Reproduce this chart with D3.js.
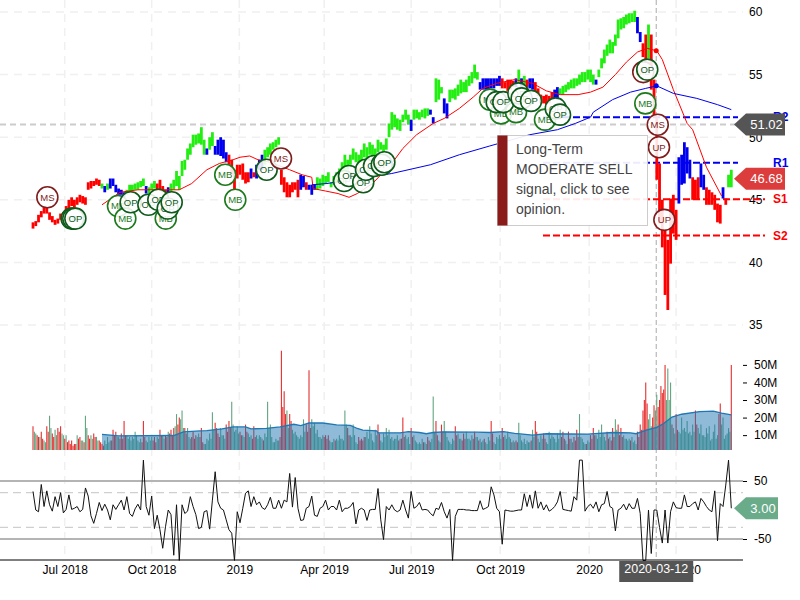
<!DOCTYPE html>
<html>
<head>
<meta charset="utf-8">
<script src="https://cdn.jsdelivr.net/npm/d3@7"></script>
<style>
	body { margin: 0; background: #fff; font-family: "Liberation Sans", Arial, sans-serif; }
	svg { display: block; }
	text { font-family: "Liberation Sans", Arial, sans-serif; }
</style>
</head>
<body>
<div id="chart"></div>
<script>
// every price/volume/cci sample below is two trading days apart
var priceHigh = [
	43.2,43.3,43.8,44.1,44.4,44.4,44.0,43.7,43.4,43.5,
	43.9,44.0,44.5,45.0,45.2,45.0,45.2,45.4,45.3,45.2,
	46.4,46.5,46.5,46.7,46.6,46.3,46.1,46.3,46.7,46.7,
	46.2,45.9,45.8,45.6,45.8,46.2,46.2,46.3,46.4,46.5,
	46.7,46.1,46.0,46.3,46.5,46.3,46.6,46.1,45.8,46.0,
	46.3,46.6,47.3,46.9,48.1,48.2,49.1,49.5,50.2,50.2,
	50.3,50.8,49.8,49.1,50.0,50.4,49.3,49.8,50.0,49.8,
	48.8,48.6,48.2,47.4,47.8,47.8,47.9,47.2,47.2,47.5,
	47.2,47.8,48.2,48.6,49.0,49.2,49.5,49.6,49.8,50.0,
	47.4,46.8,46.4,46.2,46.4,46.4,46.6,47.0,46.9,46.4,
	46.2,46.2,46.2,46.8,46.7,47.0,46.9,47.2,46.4,46.9,
	47.2,47.5,48.0,48.6,48.2,48.6,49.1,48.8,48.6,49.0,
	49.5,49.2,49.6,49.4,49.1,49.8,49.6,49.4,49.9,51.1,
	52.0,51.8,51.5,51.4,51.8,52.2,51.8,51.4,52.2,52.2,
	52.0,52.2,52.3,52.3,52.2,51.6,54.7,54.6,54.0,53.1,
	52.7,53.8,53.8,53.9,54.2,54.6,54.4,54.6,54.9,55.2,
	55.8,55.2,54.4,54.7,54.7,54.7,54.7,54.7,54.7,54.9,
	54.7,54.4,54.6,54.6,54.5,54.7,55.4,54.7,54.9,54.6,
	54.7,54.7,54.4,53.9,53.4,53.3,53.4,53.3,53.6,53.8,
	54.0,53.9,54.1,54.2,54.4,54.6,54.7,54.7,55.0,55.2,
	55.2,55.4,55.4,55.0,54.6,55.4,56.3,57.0,57.4,57.8,
	57.6,58.2,59.4,59.5,59.6,59.8,59.9,59.9,60.1,59.6,
	58.4,57.5,58.2,59.0,58.2,54.6,51.6,47.9,45.0,42.6,
	41.8,45.1,45.4,44.2,48.4,48.6,49.6,49.2,48.2,46.8,
	46.6,46.8,47.9,47.0,46.0,45.8,45.6,45.4,44.7,44.6,
	46.0,45.1,47.0,47.4
];
var priceLow = [
	42.7,42.9,43.2,43.6,43.9,43.9,43.4,43.2,43.0,43.1,
	43.4,43.5,44.0,44.2,44.5,44.4,44.6,44.8,44.7,44.6,
	45.8,45.9,46.1,46.2,46.1,45.9,45.6,45.8,45.9,46.1,
	45.6,45.4,45.4,45.2,45.4,45.6,45.7,45.8,45.8,46.0,
	46.1,45.5,45.5,45.8,45.9,45.8,45.8,45.6,45.4,45.5,
	45.6,45.8,46.1,45.8,46.9,47.4,48.2,48.6,49.2,49.4,
	49.5,49.4,48.6,48.6,49.0,49.3,48.6,48.6,48.5,48.3,
	48.0,47.8,47.0,45.8,46.7,47.0,46.6,46.3,46.4,46.7,
	46.8,46.7,47.4,47.4,47.8,48.4,48.6,49.0,49.2,49.4,
	46.2,45.6,45.2,45.2,45.6,45.8,45.2,45.8,46.0,45.8,
	45.8,45.4,45.8,45.8,45.9,46.1,46.3,46.4,46.0,46.2,
	46.4,46.7,47.2,47.4,47.4,47.8,48.2,48.0,47.8,48.0,
	48.4,48.2,48.6,48.4,48.2,48.8,49.0,48.8,49.0,50.0,
	50.6,50.8,50.6,50.5,51.2,51.4,51.0,50.5,51.4,51.5,
	51.4,51.6,51.5,51.7,51.8,51.1,52.8,53.0,53.5,51.9,
	51.5,52.8,53.1,53.0,53.3,53.5,53.6,53.6,54.1,54.3,
	54.7,54.6,53.8,53.8,53.8,53.8,53.9,53.9,54.1,54.1,
	53.9,53.9,53.7,53.8,54.0,54.0,54.3,53.9,54.2,54.0,
	53.9,53.8,53.6,53.3,52.7,52.7,52.6,52.7,53.0,53.1,
	53.0,53.4,53.4,53.6,53.8,53.9,53.9,54.1,54.2,54.4,
	54.4,54.6,54.4,54.2,54.2,54.8,55.5,55.9,56.5,56.7,
	56.7,57.3,57.9,58.6,58.7,59.0,59.1,59.2,59.2,58.3,
	57.6,56.4,56.2,56.3,53.8,51.6,46.6,43.1,41.2,37.4,
	36.2,39.9,42.3,41.8,44.7,46.2,46.3,47.1,46.7,45.0,
	45.0,45.0,46.0,45.8,44.6,44.6,44.6,44.2,43.2,43.1,
	45.1,44.6,46.0,46.0
];
// r = falling, b = sideways, g = rising
var priceTrend = (
	"rrrrrrrrrr" + "rrrrrrrrrr" + "rrrrrgbgbb" + "bbbbgggggg" + "gbgggrrrrb" +
	"gggggggggg" + "gggbggbbbb" + "brrrrrrrrb" + "rbbbgggggg" + "rrrrrrrbbr" +
	"bbbggggggg" + "gggggggggg" + "gggggggggg" + "gggggggbgg" + "ggggbbgggb" +
	"bggggggggg" + "ggbbbbbbbb" + "rrrrrbgbgr" + "bbrrrrrrrb" + "bggggggggg" +
	"ggggbggggg" + "gggggggggb" + "brrgrrrrrr" + "rrrrbbbbbr" + "rrbbrrrrrr" +
	"brgg"
).split("");

// millions of shares, negative = down day (red bar)
var volume = [
	-15,11,-9,-12,7,-15,21,-11,13,-14,
	-15,10,10,-7,-7,-5,10,-9,7,21,
	-10,10,-11,9,-7,-5,7,9,7,-13,
	-12,9,-11,-18,10,9,9,12,7,8,
	-18,7,9,9,-9,9,-13,10,-10,12,
	-13,-14,22,-20,24,-14,14,8,-12,-10,
	11,-14,5,8,11,23,-17,-11,14,10,
	-16,-18,29,12,15,-12,10,-16,11,10,
	-15,10,10,8,11,29,16,6,8,7,
	-58,-35,24,-22,13,12,9,10,19,-16,
	-47,19,17,13,9,10,-10,-10,6,8,
	8,10,8,24,-14,10,16,6,-9,-8,
	-9,12,15,7,13,-16,7,11,14,13,
	9,8,10,8,-20,10,9,-14,10,6,
	6,8,6,-9,6,32,-18,7,-16,18,
	9,6,8,-15,11,8,-11,12,8,10,
	-12,9,8,7,6,9,-18,6,9,10,
	-14,10,12,8,7,-7,17,7,8,7,
	6,13,-18,8,10,-11,6,12,10,8,
	11,13,-12,7,-12,8,-9,-13,22,8,
	5,7,-10,-14,10,13,16,9,-12,9,
	-14,19,-16,-14,10,8,8,9,7,-12,
	-16,-24,-40,19,15,-27,33,-30,-34,-50,
	48,40,14,-22,12,20,14,18,12,16,
	-24,14,16,10,14,15,8,16,10,-28,
	20,10,14,-50
];
// the trading days in between
var volumeBetween = [
	12,-10,9,-8,6,-12,14,-9,10,-12,
	11,-8,-6,-5,-4,-5,-8,7,-6,14,
	-8,8,-9,7,-6,-4,5,6,-7,-10,
	9,-8,-8,-10,8,7,8,10,6,-6,
	-9,6,7,-7,-6,8,-10,8,-9,-11,
	-10,15,-16,19,14,-11,9,-9,-8,9,
	-9,-6,5,7,8,13,-14,-9,10,8,
	-12,-14,16,13,11,-10,9,-12,9,-8,
	-9,8,9,-7,9,14,9,6,7,-9,
	-26,-22,14,-18,11,10,8,9,12,-12,
	-14,15,11,9,8,-9,-8,7,6,-7,
	7,8,7,16,-10,9,10,5,-7,-7,
	9,8,11,6,10,-11,6,9,10,8,
	7,8,-7,-8,-9,8,5,-9,7,5,
	5,-6,5,-7,8,12,-10,6,-12,12,
	7,5,7,-10,8,-7,-8,8,7,-8,
	9,-7,6,-8,5,7,-11,5,8,8,
	-9,8,9,-6,6,-6,10,6,5,6,
	-7,9,-12,6,8,-8,5,8,9,6,
	8,-9,-8,5,-8,6,-7,-9,9,6,
	-5,6,-8,-10,8,9,11,7,-8,-7,
	-9,13,-10,-9,8,7,-7,6,5,-9,
	-13,-30,-28,22,-20,24,-26,-38,-36,30,
	30,-16,11,-13,11,13,12,11,10,12,
	-16,11,10,9,11,7,12,8,-22,16,
	8,11,12
];
var volumeAvgBars = [50,62,102,109,121,126,137,145,154,158,169,179,189,194,200,210,220,230,235,239,249,250,266,272,280,285,290,297,322,331,341,349,355,362,372,402,420,433,437,445,452,457,463,470,483,493,499,506];
var volumeAvg = [10.4,9.6,9.8,11.9,12.4,12.6,13.6,14.7,14.7,13.6,13.8,14.7,16.2,15.4,16.9,16.9,15.8,15.6,13.8,12.8,12.4,11.3,11.3,12,11.5,10.8,11.5,11.9,11.7,11.5,12,11,10.6,10,10.8,10.6,11.5,11.3,10.8,13,14.4,16.6,20.3,21.9,23.4,23.7,22.6,21.5];

var cci = [
	32,0,-3,44,6,33,9,-2,23,6,
	30,-5,1,26,1,3,6,-3,1,38,
	24,-10,-23,-6,13,-1,10,0,-17,9,
	1,9,17,0,23,-6,-11,2,10,0,
	86,6,-9,24,-32,-9,-34,-66,-29,0,
	-8,-78,9,-87,9,-6,-2,23,6,-8,
	-32,-30,-3,-1,-33,17,66,14,3,0,
	-17,-34,-40,-87,-3,-22,3,29,33,6,
	23,9,14,4,1,9,22,3,3,17,
	3,17,14,63,5,56,3,-18,-17,3,
	6,24,-9,-11,3,6,17,0,6,6,
	0,17,-3,3,3,6,13,-24,0,3,
	0,-18,0,1,1,37,-17,-51,6,0,
	9,0,-3,0,17,0,-14,32,3,6,
	13,0,1,0,-6,-10,3,1,13,-3,
	-14,1,-87,-11,1,1,1,0,0,-1,
	-1,-1,16,1,3,6,40,26,3,-3,
	-59,0,-1,-2,-2,-1,0,0,28,6,
	26,3,33,3,14,0,9,-2,1,6,
	14,32,1,0,-1,-2,23,17,86,86,
	-2,6,10,3,14,-3,9,11,32,6,
	3,-36,0,3,10,0,11,3,3,20,
	-6,-87,-87,0,-75,0,0,-30,-57,0,
	-57,-3,14,4,3,3,26,6,6,11,
	14,0,20,14,6,0,-3,33,-53,11,
	6,43,86,3
];

// moving averages, bar number and price
var ma50Bars = [50,63,76,94,106,115,126,135,145,150,157,163,172,186,195,202,203,212,221,229,235,246,260,268,278,290,298,309,319,326,336,349,362,372,382,395,404,413,422,430,438,445,452,456,464,474,478,488,499];
var ma50 = [44.6,45.6,45.8,45.8,45.8,46.3,47.4,47.9,48.2,48.4,48.5,48.2,48,47.4,47,46.8,45.9,45.7,45.5,45.2,45.5,46.3,47.9,49.1,50.2,51.1,51.5,52.3,53.2,53.9,54.3,54.6,54.3,53.7,53.4,53.4,53.6,54,55,56,56.8,57.1,56.9,56.2,53.8,51.1,50.6,47.6,45.3];
var ma200Bars = [202,213,260,288,309,331,360,380,393,404,406,420,433,444,452,464,481,496,506];
var ma200 = [46.2,46.3,47.1,47.8,48.6,49.3,50.2,50.6,51.1,51.6,52,53,53.6,53.9,54.1,53.5,53.1,52.6,52.2];

// signal circles, oldest first so the later ones lie on top
var markBars = [10.4,28,29.2,30.7,61.6,66.9,70.8,83.6,90.8,96.2,97.6,100.5,139.3,146.6,169.3,179.7,225.4,229,239.3,241.3,247.1,252.7,254.6,331.2,339.1,350,336,340.8,351.7,354.1,360.9,371,378.8,381.9,442.2,445.1,443.7,452.7,453.6,457.5];
var markPrices = [45.2,43.5,43.5,43.5,44.5,43.5,44.8,44.6,45,43.5,44.3,44.8,47,45,47.4,48.3,46.5,46.9,46.4,47.4,47.7,47.8,48,53,51.9,52,52.8,52.8,53.5,53.1,52.9,51.4,52.3,51.8,55.2,55.4,52.7,51,49.2,43.4];
var markLabels = ["MS","OP","OP","OP","MB","MB","OP","OP","OP","MB","OP","OP","MB","MB","OP","MS","OP","OP","OP","OP","OP","OP","OP","MB","MB","MB","OP","OP","OP","OP","OP","MB","OP","OP","MS","OP","MB","MS","UP","UP"];

var priceTicks = [60,55,50,45,40,35];
var volumeTicks = [10,20,30,40,50];
var cciTicks = [50,-50];
var cciDashes = [30,-30];
var timeBars = [23,86,149.5,211,274,338.5,403,466];
var timeLabels = ["Jul 2018","Oct 2018","2019","Apr 2019","Jul 2019","Oct 2019","2020","Apr 2020"];

var levelNames = ["R2","R1","S1","S2"];
var levelPrices = [51.6,47.95,45.05,42.15];
var levelColors = ["#0000ee","#0000ee","#ff0000","#ff0000"];

var cursorBar = 451.6;
var cursorPrice = 51.02;
var cursorDate = "2020-03-12";
var lastPrice = 46.68;
var lastCci = 3;
var opinionLines = ["Long-Term", "MODERATE SELL", "signal, click to see", "opinion."];

var width = 800, height = 600;
var plotRight = 743, volumeBase = 450, cciBottom = 560;

var x = d3.scaleLinear().domain([0, 506]).range([33, 731.3]);
var y = d3.scaleLinear().domain([60, 35]).range([12, 325]);
var yVol = d3.scaleLinear().domain([0, 50]).range([452.7, 364.9]);
var yCci = d3.scaleLinear().domain([50, -50]).range([481, 539]);

var trendColor = {r: "#ff0000", g: "#22ee11", b: "#0000ee"};

var svg = d3.select("#chart").append("svg")
	.attr("width", width)
	.attr("height", height);

// grid
var grid = svg.append("g")
	.attr("fill", "none")
	.attr("stroke", "#f0f0f0")
	.attr("stroke-width", 1.5)
	.attr("stroke-dasharray", "8,6");

grid.selectAll(".gy").data(priceTicks).enter().append("line")
	.attr("x1", 0).attr("x2", plotRight)
	.attr("y1", d => y(d)).attr("y2", d => y(d));

grid.selectAll(".gx").data(timeBars).enter().append("line")
	.attr("x1", d => x(d)).attr("x2", d => x(d))
	.attr("y1", 0).attr("y2", cciBottom);

// axes
function styleAxis(g) {
	g.select(".domain").remove();
	g.selectAll("text").attr("fill", "#000").style("font-size", "12px");
	g.selectAll("line").attr("stroke", "#000");
}

svg.append("g")
	.attr("transform", `translate(${plotRight},0)`)
	.call(d3.axisRight(y).tickValues(priceTicks).tickSize(0).tickPadding(6))
	.call(styleAxis);

svg.append("g")
	.attr("transform", `translate(${plotRight},0)`)
	.call(d3.axisRight(yVol).tickValues(volumeTicks).tickFormat(d => d + "M").tickSize(4).tickPadding(7))
	.call(styleAxis);

svg.append("g")
	.attr("transform", `translate(${plotRight},0)`)
	.call(d3.axisRight(yCci).tickValues(cciTicks).tickFormat(d => String(d)).tickSize(4).tickPadding(7))
	.call(styleAxis);

svg.append("g")
	.attr("transform", `translate(0,${cciBottom})`)
	.call(d3.axisBottom(x).tickValues(timeBars).tickFormat((d, i) => timeLabels[i]).tickSize(0).tickPadding(5))
	.call(styleAxis);

// cursor lines
svg.append("line")
	.attr("x1", 0).attr("x2", 735)
	.attr("y1", y(cursorPrice)).attr("y2", y(cursorPrice))
	.attr("stroke", "#cccccc")
	.attr("stroke-width", 2)
	.attr("stroke-dasharray", "6,4");

svg.append("line")
	.attr("x1", x(cursorBar)).attr("x2", x(cursorBar))
	.attr("y1", 0).attr("y2", cciBottom)
	.attr("stroke", "#aaaaaa")
	.attr("stroke-width", 1)
	.attr("stroke-dasharray", "5,3");

// support and resistance
var levels = svg.append("g");
levelPrices.forEach(function(p, i) {
	levels.append("line")
		.attr("x1", 543).attr("x2", i < 2 ? 738 : 765)
		.attr("y1", y(p)).attr("y2", y(p))
		.attr("stroke", levelColors[i])
		.attr("stroke-width", 2)
		.attr("stroke-dasharray", "7,3");
	levels.append("text")
		.attr("x", 773)
		.attr("y", y(p))
		.attr("dy", "0.35em")
		.attr("fill", levelColors[i])
		.style("font-size", "12px")
		.style("font-weight", "bold")
		.text(levelNames[i]);
});

// price bars
svg.append("g").selectAll("line")
	.data(priceHigh)
	.enter()
	.append("line")
	.attr("x1", (d, i) => x(i * 2))
	.attr("x2", (d, i) => x(i * 2))
	.attr("y1", d => y(d))
	.attr("y2", (d, i) => y(priceLow[i]))
	.attr("stroke", (d, i) => trendColor[priceTrend[i]])
	.attr("stroke-width", 2.8);

// moving averages
var maLine = d3.line().x(d => x(d[0])).y(d => y(d[1]));

svg.append("path")
	.attr("d", maLine(d3.zip(ma50Bars, ma50)))
	.attr("fill", "none")
	.attr("stroke", "#ff0000")
	.attr("stroke-width", 1);

svg.append("path")
	.attr("d", maLine(d3.zip(ma200Bars, ma200)))
	.attr("fill", "none")
	.attr("stroke", "#0000ee")
	.attr("stroke-width", 1);

svg.append("circle").attr("cx", x(cursorBar)).attr("cy", y(56.9)).attr("r", 2.5).attr("fill", "#ff0000");
svg.append("circle").attr("cx", x(cursorBar)).attr("cy", y(54.1)).attr("r", 2.5).attr("fill", "#0000ee");

// signal circles
var markColor = {MS: "#7f1d1d", UP: "#7f1d1d", MB: "#1c7a1c", OP: "#0d5a1a"};
var marks = svg.append("g").selectAll("g")
	.data(markLabels)
	.enter()
	.append("g")
	.attr("transform", (d, i) => `translate(${x(markBars[i])},${y(markPrices[i])})`);

marks.append("circle")
	.attr("r", 10.5)
	.attr("fill", "#ffffff")
	.attr("fill-opacity", 0.88)
	.attr("stroke", d => markColor[d])
	.attr("stroke-width", 1.6);

marks.append("text")
	.attr("text-anchor", "middle")
	.attr("dy", "0.35em")
	.attr("fill", d => markColor[d])
	.style("font-size", "9.5px")
	.text(d => d);

// volume
function drawVolume(values, offset) {
	svg.append("g").selectAll("line")
		.data(values)
		.enter()
		.append("line")
		.attr("x1", (d, i) => x(i * 2 + offset))
		.attr("x2", (d, i) => x(i * 2 + offset))
		.attr("y1", d => yVol(Math.abs(d)))
		.attr("y2", volumeBase)
		.attr("stroke", d => d < 0 ? "#e62e2e" : "#62a580")
		.attr("stroke-width", 1.1);
}
drawVolume(volume, 0);
drawVolume(volumeBetween, 1);

var volumeArea = d3.area()
	.x(d => x(d[0]))
	.y0(volumeBase)
	.y1(d => yVol(d[1]));

svg.append("path")
	.attr("d", volumeArea(d3.zip(volumeAvgBars, volumeAvg)))
	.attr("fill", "#1f77b4")
	.attr("fill-opacity", 0.5);

svg.append("path")
	.attr("d", d3.line().x(d => x(d[0])).y(d => yVol(d[1]))(d3.zip(volumeAvgBars, volumeAvg)))
	.attr("fill", "none")
	.attr("stroke", "#1f77b4")
	.attr("stroke-width", 1.3);

// cci panel
svg.append("g").selectAll("line")
	.data(cciTicks)
	.enter()
	.append("line")
	.attr("x1", 0).attr("x2", plotRight)
	.attr("y1", d => yCci(d)).attr("y2", d => yCci(d))
	.attr("stroke", "#b4b4b4")
	.attr("stroke-width", 2);

svg.append("g").selectAll("line")
	.data(cciDashes)
	.enter()
	.append("line")
	.attr("x1", 0).attr("x2", plotRight)
	.attr("y1", d => yCci(d)).attr("y2", d => yCci(d))
	.attr("stroke", "#cfcfcf")
	.attr("stroke-width", 1.2)
	.attr("stroke-dasharray", "8,5");

svg.append("path")
	.attr("d", d3.line().x((d, i) => x(i * 2)).y(d => yCci(d))(cci))
	.attr("fill", "none")
	.attr("stroke", "#111111")
	.attr("stroke-width", 1);

svg.append("line")
	.attr("x1", 0).attr("x2", plotRight)
	.attr("y1", cciBottom).attr("y2", cciBottom)
	.attr("stroke", "#000")
	.attr("stroke-width", 1);

// value flags at the right edge
function flag(yPos, right, fill, label) {
	var tip = 734, neck = 746, half = 11;
	svg.append("path")
		.attr("d", d3.line()([[tip, yPos], [neck, yPos - half], [right, yPos - half], [right, yPos + half], [neck, yPos + half]]) + "Z")
		.attr("fill", fill);
	svg.append("text")
		.attr("x", (neck + right) / 2 + 1)
		.attr("y", yPos)
		.attr("dy", "0.35em")
		.attr("text-anchor", "middle")
		.attr("fill", "#fff")
		.style("font-size", "13px")
		.text(label);
}
flag(y(cursorPrice), 785, "#555555", cursorPrice.toFixed(2));
flag(y(lastPrice), 785, "#dd3c3c", lastPrice.toFixed(2));
flag(yCci(lastCci), 778, "#6aab8a", lastCci.toFixed(2));

// date flag under the cursor
svg.append("rect")
	.attr("x", x(cursorBar) - 37).attr("y", cciBottom + 1)
	.attr("width", 74).attr("height", 21)
	.attr("fill", "#555555");
svg.append("text")
	.attr("x", x(cursorBar))
	.attr("y", cciBottom + 9)
	.attr("dy", "0.35em")
	.attr("text-anchor", "middle")
	.attr("fill", "#fff")
	.style("font-size", "12.5px")
	.text(cursorDate);

// opinion box
svg.append("rect")
	.attr("x", 497.5).attr("y", 135.5)
	.attr("width", 150).attr("height", 90)
	.attr("fill", "#ffffff")
	.attr("fill-opacity", 0.92)
	.attr("stroke", "#cccccc");
svg.append("rect")
	.attr("x", 497.5).attr("y", 135.5)
	.attr("width", 10).attr("height", 90)
	.attr("fill", "#8b1a1a");
svg.append("g").selectAll("text")
	.data(opinionLines)
	.enter()
	.append("text")
	.attr("x", 516)
	.attr("y", (d, i) => 149 + i * 20)
	.attr("dy", "0.35em")
	.attr("fill", "#444444")
	.style("font-size", "14px")
	.text(d => d);
</script>
</body>
</html>
